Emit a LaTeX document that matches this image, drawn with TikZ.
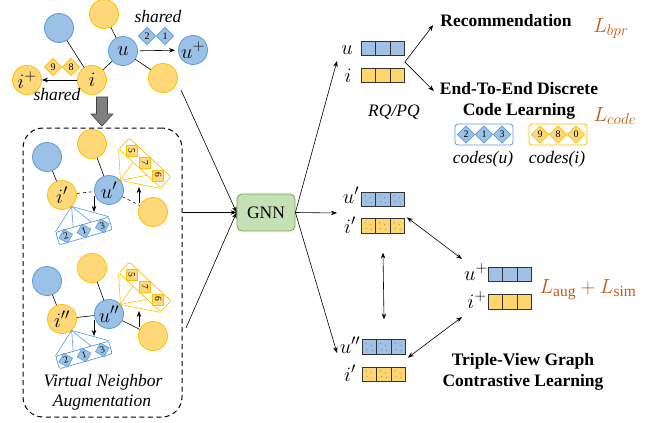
\RequirePackage{fix-cm}
\documentclass[tikz,border=0pt]{standalone}
\usepackage{fontspec}
\setmainfont{Liberation Serif}
\usetikzlibrary{arrows.meta,shapes.geometric,calc}
\DeclareMathSizes{20.5}{20.5}{15.5}{11}
\definecolor{bfill}{RGB}{155,194,230}
\definecolor{bdraw}{RGB}{91,155,213}
\definecolor{ofill}{RGB}{255,216,122}
\definecolor{odraw}{RGB}{255,192,0}
\definecolor{gfill}{RGB}{197,224,180}
\definecolor{gdraw}{RGB}{112,173,71}
\definecolor{lossc}{RGB}{197,90,17}
\definecolor{barbl}{RGB}{160,192,230}
\definecolor{baror}{RGB}{255,214,110}
\tikzset{
  mfont/.style={font=\fontsize{20.5}{24}\selectfont},
  bnode/.style={circle,draw=bdraw,fill=bfill,line width=0.8pt,minimum size=29pt,inner sep=0pt,mfont},
  onode/.style={circle,draw=odraw,fill=ofill,line width=0.8pt,minimum size=29pt,inner sep=0pt,mfont},
  bdia/.style={diamond,draw=bdraw,fill=bfill,line width=0.6pt,minimum size=17.5pt,inner sep=0pt,font=\fontsize{10}{10}\selectfont},
  odia/.style={diamond,draw=odraw,fill=ofill,line width=0.6pt,minimum size=17.5pt,inner sep=0pt,font=\fontsize{10}{10}\selectfont},
  bsq/.style={diamond,draw=bdraw,fill=bfill,line width=0.6pt,minimum size=14.5pt,inner sep=0pt,font=\fontsize{9.5}{9.5}\selectfont,rotate=16},
  osq/.style={rectangle,draw=odraw,fill=ofill,line width=0.6pt,minimum size=11pt,inner sep=0pt,font=\fontsize{9.5}{9.5}\selectfont,rotate=-90},
  link/.style={line width=0.6pt},
  fanb/.style={line width=0.6pt,draw=bdraw},
  fano/.style={line width=0.6pt,draw=odraw},
  arr/.style={line width=0.6pt,-{Stealth[length=6pt,width=4.5pt]}},
  darr/.style={line width=0.6pt,{Stealth[length=6pt,width=4.5pt]}-{Stealth[length=6pt,width=4.5pt]}},
  bbar/.style={rectangle,draw=black!80,fill=barbl,line width=0.8pt,minimum width=43pt,minimum height=14.5pt,inner sep=0pt},
  obar/.style={rectangle,draw=black!80,fill=baror,line width=0.8pt,minimum width=43pt,minimum height=14.5pt,inner sep=0pt},
  bline/.style={line width=0.8pt,draw=black!80},
  txt/.style={inner sep=0pt,anchor=base},
  mtxt/.style={inner sep=0pt,anchor=base,mfont},
  loss/.style={inner sep=0pt,anchor=base,text=lossc,font=\fontsize{20.5}{24}\selectfont},
  codebox/.style={rectangle,rounded corners=3pt,line width=0.8pt,fill=white,minimum width=58pt,minimum height=21pt,inner sep=0pt},
}
\newcommand\barsep[1]{%
  \draw[bline] ($(#1.north west)!1/3!(#1.north east)$) -- ($(#1.south west)!1/3!(#1.south east)$);
  \draw[bline] ($(#1.north west)!2/3!(#1.north east)$) -- ($(#1.south west)!2/3!(#1.south east)$);}
\newcommand\bardots[1]{%
  \foreach \dx/\dy in {4/4,9/6,5/10,10/11,18.5/4,23.5/6,19.5/10,24.5/11,33/4,38/6,34/10,39/11}{%
    \fill[black!60] ($(#1.north west)+(\dx,\dy)$) circle (0.5);}}
\newcommand\augview[5]{%
  \begin{scope}[shift={(0,#2)}]
    \node[bnode] (#1b) at (47,157) {};
    \node[onode] (#1o) at (92,144) {};
    \node[onode] (#1i) at (62,195) {#3};
    \node[bnode] (#1u) at (109,190) {#4};
    \node[onode] (#1r) at (153,212) {};
    \draw[link] (#1b) -- (#1i);
    \draw[link] (#1o) -- (#1u);
    \draw[link,#5] (#1i) -- (#1u);
    \draw[link,#5] (#1u) -- (#1r);
    % yellow code strip
    \node[draw=odraw,line width=0.7pt,rounded corners=2pt,minimum width=57pt,minimum height=15pt,inner sep=0pt,rotate=-43] (#1yb) at (145,163) {};
    \draw[fano] (#1u.40) -- (#1yb.south west);
    \draw[fano] (#1u.40) -- ($(#1yb.south west)!1/3!(#1yb.south east)$);
    \draw[fano] (#1u.40) -- ($(#1yb.south west)!2/3!(#1yb.south east)$);
    \draw[fano] (#1u.40) -- (#1yb.south east);
    \node[osq] (#1y5) at (131.8,150.7) {5};
    \node[osq] (#1y7) at (145,163) {7};
    \node[osq] (#1y6) at (158.2,175.3) {6};
    % blue code strip
    \node[draw=bdraw,line width=0.7pt,rounded corners=2pt,minimum width=55pt,minimum height=13pt,inner sep=0pt,rotate=16] (#1bb) at (84,231) {};
    \draw[fanb] (#1i.-50) -- (#1bb.north west);
    \draw[fanb] (#1i.-50) -- ($(#1bb.north west)!1/3!(#1bb.north east)$);
    \draw[fanb] (#1i.-50) -- ($(#1bb.north west)!2/3!(#1bb.north east)$);
    \draw[fanb] (#1i.-50) -- (#1bb.north east);
    \node[bsq] (#1b2) at (65.7,236.2) {2};
    \node[bsq] (#1b1) at (84,231) {1};
    \node[bsq] (#1b3) at (102.3,225.8) {3};
    % small arrows
    \coordinate (#1d1) at (94,196);
    \coordinate (#1d2) at (94,212);
    \draw[arr] (#1d1) -- (#1d2);
    \coordinate (#1e1) at (139,203);
    \coordinate (#1e2) at (139,187);
    \draw[arr] (#1e1) -- (#1e2);
  \end{scope}}

\begin{document}
\begin{tikzpicture}[x=1pt,y=-1pt,font=\fontsize{17.5}{21}\selectfont]
\useasboundingbox (0,0) rectangle (662,423);

% ---------- original graph ----------
\node[bnode] (tb) at (59,28) {};
\node[onode] (to) at (104,14) {};
\node[bnode] (u) at (123,51) {$u$};
\node[onode] (or) at (163,78) {};
\node[onode] (i) at (92,80) {$i$};
\node[onode] (ip) at (27,80) {$i^+$};
\node[bnode] (up) at (193,50) {$u^+$};
\draw[link] (tb) -- (i);
\draw[link] (to) -- (u);
\draw[link] (u) -- (i);
\draw[link] (u) -- (or);
\draw[arr,shorten <=2pt,shorten >=3pt] (u) -- (up);
\draw[arr] (i) -- (ip);
\node[bdia] (d2) at (147,36) {2};
\node[bdia] (d1) at (165,36) {1};
\node[odia] (d9) at (53,67) {9};
\node[odia] (d8) at (71,67) {8};
\node[txt,font=\fontsize{17.5}{21}\selectfont\itshape] (sh1) at (158,23) {shared};
\node[txt,font=\fontsize{17.5}{21}\selectfont\itshape] (sh2) at (57,100) {shared};

% gray block arrow
\filldraw[fill=black!50,draw=black!75,line width=0.6pt] (96.5,97) -- (107.5,97) -- (107.5,114) -- (113,114) -- (102,126) -- (91,114) -- (96.5,114) -- cycle;

% ---------- augmentation box ----------
\node[draw,dashed,dash pattern=on 5pt off 3.5pt,line width=1pt,rounded corners=20pt,minimum width=159pt,minimum height=289pt,inner sep=0pt] (aug) at (102.5,272.5) {};
\augview{a}{0}{$i'$}{$u'$}{dashed}
\augview{c}{124}{$i''$}{$u''$}{solid}
\node[txt,font=\fontsize{17.5}{21}\selectfont\itshape] (vn1) at (103,386) {Virtual Neighbor};
\node[txt,font=\fontsize{17.5}{21}\selectfont\itshape] (vn2) at (102,406) {Augmentation};

% ---------- GNN ----------
\node[draw=gdraw,fill=gfill,line width=0.8pt,rounded corners=5pt,minimum width=58pt,minimum height=37pt,inner sep=0pt] (gnn) at (266,212.5) {GNN};
\coordinate (topin) at (181,90);
\coordinate (botin) at (186,328);
\draw[arr] (topin) -- (gnn.west);
\draw[arr] (aug.east |- gnn.west) -- (gnn.west);
\draw[arr] (botin) -- (gnn.west);

% ---------- right: u,i ----------
\node[mtxt] (ul) at (347,54) {$u$};
\node[mtxt] (il) at (348,82) {$i$};
\node[bbar] (ub) at (383,48.5) {};
\node[obar] (ib) at (383,75.5) {};
\barsep{ub}\barsep{ib}
\node[txt,font=\fontsize{17.5}{21}\selectfont\itshape] (rq) at (394,116) {RQ/PQ};
\coordinate (uiin) at (337,61);
\draw[arr] (gnn.east) -- (uiin);

\node[txt,font=\fontsize{17.5}{21}\selectfont\bfseries] (rec) at (506,27) {Recommendation};
\node[loss] (lbpr) at (611,32) {$L_{bpr}$};
\node[txt,font=\fontsize{17.5}{21}\selectfont\bfseries] (e2e1) at (519,94) {End-To-End Discrete};
\node[txt,font=\fontsize{17.5}{21}\selectfont\bfseries] (e2e2) at (519,115) {Code Learning};
\node[loss] (lcode) at (615,121) {$L_{code}$};
\coordinate (fork) at ($(ub.east)!0.5!(ib.east)$);
\draw[arr] (fork) -- ([xshift=-7pt,yshift=-4pt]rec.west);
\draw[arr] (fork) -- ([xshift=-6pt,yshift=-3pt]e2e1.west);

\node[codebox,draw=bdraw] (cub) at (484,134.5) {};
\node[bdia] (cu2) at (466,134.5) {2};
\node[bdia] (cu1) at (484,134.5) {1};
\node[bdia] (cu3) at (502,134.5) {3};
\node[codebox,draw=odraw] (cib) at (558,134.5) {};
\node[odia] (ci9) at (540,134.5) {9};
\node[odia] (ci8) at (558,134.5) {8};
\node[odia] (ci0) at (576,134.5) {0};
\node[txt,font=\fontsize{17.5}{21}\selectfont\itshape] (cul) at (483,163) {codes(u)};
\node[txt,font=\fontsize{17.5}{21}\selectfont\itshape] (cil) at (557,163) {codes(i)};

% ---------- right: views ----------
\node[mtxt] (u1l) at (351,203) {$u'$};
\node[mtxt] (i1l) at (350,233) {$i'$};
\node[bbar] (u1b) at (383,199.5) {};
\node[obar] (i1b) at (383,226) {};
\bardots{u1b}\bardots{i1b}\barsep{u1b}\barsep{i1b}
\coordinate (v1in) at (337,213);
\draw[arr] (gnn.east) -- (v1in);

\node[mtxt] (u2l) at (350,353) {$u''$};
\node[mtxt] (i2l) at (350,381) {$i'$};
\node[bbar] (u2b) at (384,347) {};
\node[obar] (i2b) at (384,374.5) {};
\bardots{u2b}\bardots{i2b}\barsep{u2b}\barsep{i2b}
\coordinate (v2in) at (337,353);
\draw[arr] (gnn.east) -- (v2in);

\node[mtxt] (upl) at (476,280) {$u^+$};
\node[mtxt] (ipl) at (477,308) {$i^+$};
\node[bbar] (upb) at (510,274.5) {};
\node[obar] (ipb) at (510,302) {};
\barsep{upb}\barsep{ipb}
\node[loss] (laug) at (588,293) {$L_{\mathrm{aug}}+L_{\mathrm{sim}}$};

\coordinate (c1a) at (462,259);
\coordinate (c2a) at (462,317);
\draw[darr] ([shift={(2,-1)}]i1b.north east) -- (c1a);
\draw[darr] ([shift={(2,3)}]u2b.south east) -- (c2a);
\draw[darr] ([yshift=-19pt]i1b.south) -- ([yshift=20pt]u2b.north);

\node[txt,font=\fontsize{17.5}{21}\selectfont\bfseries] (tv1) at (523,365) {Triple-View Graph};
\node[txt,font=\fontsize{17.5}{21}\selectfont\bfseries] (tv2) at (523,386) {Contrastive Learning};
\end{tikzpicture}
\end{document}
